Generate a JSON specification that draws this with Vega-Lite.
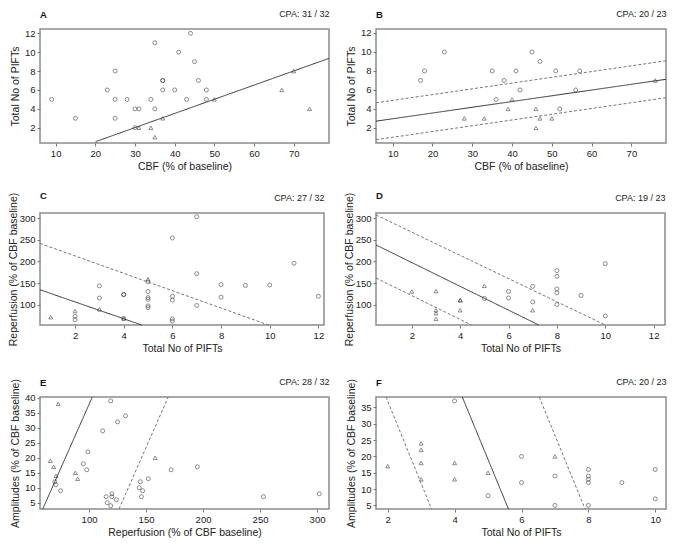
{
"$schema": "https://vega.github.io/schema/vega-lite/v6.json",
"padding": {"left": 7, "top": 8, "right": 5, "bottom": 5},
"columns": 2,
"spacing": {"row": 70, "column": 46},
"bounds": "flush",
"align": "all",
"config": {
 "font": "Liberation Sans",
 "view": {"stroke": "#8c8c8c", "strokeWidth": 1.5},
 "axis": {"grid": false, "domain": false, "tickColor": "#777", "tickSize": 3, "labelFontSize": 9.5, "labelColor": "#222", "labelPadding": 2, "titleFontSize": 10.5, "titleFontWeight": "normal", "titleColor": "#222"},
 "title": {"anchor": "start", "frame": "group", "fontSize": 9.5, "fontWeight": "bold", "color": "#111", "offset": -10},
 "point": {"filled": false, "size": 16, "strokeWidth": 0.8, "color": "#333"},
 "line": {"strokeWidth": 1, "clip": true}
},
"datasets": {
 "A": [{"x":9,"y":5,"s":"o"},{"x":15,"y":3,"s":"o"},{"x":23,"y":6,"s":"o"},{"x":25,"y":8,"s":"o"},{"x":25,"y":5,"s":"o"},{"x":25,"y":3,"s":"o"},{"x":28,"y":5,"s":"o"},{"x":30,"y":4,"s":"o"},{"x":31,"y":4,"s":"o"},{"x":30,"y":2,"s":"o"},{"x":34,"y":5,"s":"o"},{"x":35,"y":11,"s":"o"},{"x":35,"y":4,"s":"o"},{"x":37,"y":7,"s":"o"},{"x":37,"y":7,"s":"o"},{"x":37,"y":6,"s":"o"},{"x":40,"y":6,"s":"o"},{"x":41,"y":10,"s":"o"},{"x":43,"y":5,"s":"o"},{"x":44,"y":12,"s":"o"},{"x":45,"y":9,"s":"o"},{"x":46,"y":7,"s":"o"},{"x":48,"y":6,"s":"o"},{"x":48,"y":5,"s":"o"},
  {"x":31,"y":2,"s":"t"},{"x":34,"y":2,"s":"t"},{"x":35,"y":1,"s":"t"},{"x":37,"y":3,"s":"t"},{"x":50,"y":5,"s":"t"},{"x":67,"y":6,"s":"t"},{"x":70,"y":8,"s":"t"},{"x":74,"y":4,"s":"t"}],
 "A_lines": [{"x":20.07,"y":0.52,"k":"fit","d":"s"},{"x":78.9,"y":9.35,"k":"fit","d":"s"}],
 "B": [{"x":17,"y":7,"s":"o"},{"x":18,"y":8,"s":"o"},{"x":23,"y":10,"s":"o"},{"x":35,"y":8,"s":"o"},{"x":36,"y":5,"s":"o"},{"x":38,"y":7,"s":"o"},{"x":41,"y":8,"s":"o"},{"x":42,"y":6,"s":"o"},{"x":45,"y":10,"s":"o"},{"x":47,"y":9,"s":"o"},{"x":51,"y":8,"s":"o"},{"x":52,"y":4,"s":"o"},{"x":56,"y":6,"s":"o"},{"x":57,"y":8,"s":"o"},
  {"x":28,"y":3,"s":"t"},{"x":33,"y":3,"s":"t"},{"x":39,"y":4,"s":"t"},{"x":40,"y":5,"s":"t"},{"x":46,"y":4,"s":"t"},{"x":46,"y":2,"s":"t"},{"x":47,"y":3,"s":"t"},{"x":50,"y":3,"s":"t"},{"x":76,"y":7,"s":"t"}],
 "B_lines": [{"x":5.8,"y":2.71,"k":"fit","d":"s"},{"x":78.7,"y":7.12,"k":"fit","d":"s"},{"x":5.8,"y":4.65,"k":"up","d":"d"},{"x":78.7,"y":9.07,"k":"up","d":"d"},{"x":5.8,"y":0.76,"k":"lo","d":"d"},{"x":78.7,"y":5.18,"k":"lo","d":"d"}],
 "C": [{"x":2,"y":74,"s":"o"},{"x":2,"y":66,"s":"o"},{"x":3,"y":144,"s":"o"},{"x":3,"y":116,"s":"o"},{"x":4,"y":124,"s":"o"},{"x":4,"y":124,"s":"o"},{"x":4,"y":69,"s":"o"},{"x":5,"y":153,"s":"o"},{"x":5,"y":131,"s":"o"},{"x":5,"y":117,"s":"o"},{"x":5,"y":113,"s":"o"},{"x":5,"y":98,"s":"o"},{"x":5,"y":94,"s":"o"},{"x":6,"y":254,"s":"o"},{"x":6,"y":120,"s":"o"},{"x":6,"y":111,"s":"o"},{"x":6,"y":68,"s":"o"},{"x":6,"y":63,"s":"o"},{"x":7,"y":303,"s":"o"},{"x":7,"y":172,"s":"o"},{"x":7,"y":99,"s":"o"},{"x":8,"y":147,"s":"o"},{"x":8,"y":118,"s":"o"},{"x":9,"y":145,"s":"o"},{"x":10,"y":146,"s":"o"},{"x":11,"y":196,"s":"o"},{"x":12,"y":120,"s":"o"},
  {"x":1,"y":72,"s":"t"},{"x":2,"y":86,"s":"t"},{"x":3,"y":90,"s":"t"},{"x":4,"y":69,"s":"t"},{"x":5,"y":159,"s":"t"}],
 "C_lines": [{"x":0.56,"y":135,"k":"fit","d":"s"},{"x":4.74,"y":54,"k":"fit","d":"s"},{"x":0.56,"y":241.6,"k":"up","d":"d"},{"x":9.95,"y":54,"k":"up","d":"d"}],
 "D": [{"x":2,"y":131,"s":"t"},{"x":3,"y":132,"s":"t"},{"x":3,"y":88,"s":"t"},{"x":3,"y":81,"s":"t"},{"x":3,"y":68,"s":"t"},{"x":4,"y":111,"s":"t"},{"x":4,"y":111,"s":"t"},{"x":4,"y":88,"s":"t"},{"x":5,"y":144,"s":"t"},{"x":7,"y":88,"s":"t"},
  {"x":5,"y":115,"s":"o"},{"x":6,"y":131,"s":"o"},{"x":6,"y":116,"s":"o"},{"x":7,"y":143,"s":"o"},{"x":7,"y":107,"s":"o"},{"x":8,"y":179,"s":"o"},{"x":8,"y":166,"s":"o"},{"x":8,"y":137,"s":"o"},{"x":8,"y":128,"s":"o"},{"x":8,"y":101,"s":"o"},{"x":9,"y":122,"s":"o"},{"x":10,"y":195,"s":"o"},{"x":10,"y":75,"s":"o"}],
 "D_lines": [{"x":0.52,"y":238,"k":"fit","d":"s"},{"x":7.25,"y":54,"k":"fit","d":"s"},{"x":0.52,"y":307,"k":"up","d":"d"},{"x":10.0,"y":54,"k":"up","d":"d"},{"x":0.52,"y":162,"k":"lo","d":"d"},{"x":4.47,"y":54,"k":"lo","d":"d"}],
 "E": [{"x":73,"y":38,"s":"t"},{"x":66,"y":19,"s":"t"},{"x":69,"y":17,"s":"t"},{"x":71,"y":14,"s":"t"},{"x":88,"y":15,"s":"t"},{"x":90,"y":13,"s":"t"},{"x":158,"y":20,"s":"t"},
  {"x":119,"y":39,"s":"o"},{"x":132,"y":34,"s":"o"},{"x":125,"y":32,"s":"o"},{"x":112,"y":29,"s":"o"},{"x":99,"y":22,"s":"o"},{"x":95,"y":18,"s":"o"},{"x":98,"y":16,"s":"o"},{"x":70,"y":12,"s":"o"},{"x":71,"y":11,"s":"o"},{"x":75,"y":9,"s":"o"},{"x":115,"y":7,"s":"o"},{"x":116,"y":5,"s":"o"},{"x":119,"y":4,"s":"o"},{"x":120,"y":8,"s":"o"},{"x":120,"y":7,"s":"o"},{"x":124,"y":6,"s":"o"},{"x":145,"y":12,"s":"o"},{"x":152,"y":13,"s":"o"},{"x":144,"y":10,"s":"o"},{"x":147,"y":9,"s":"o"},{"x":146,"y":7,"s":"o"},{"x":172,"y":16,"s":"o"},{"x":195,"y":17,"s":"o"},{"x":253,"y":7,"s":"o"},{"x":302,"y":8,"s":"o"}],
 "E_lines": [{"x":59.4,"y":2.9,"k":"fit","d":"s"},{"x":102.9,"y":40.3,"k":"fit","d":"s"},{"x":126.3,"y":2.9,"k":"up","d":"d"},{"x":169.5,"y":40.3,"k":"up","d":"d"}],
 "F": [{"x":2,"y":17,"s":"t"},{"x":3,"y":24,"s":"t"},{"x":3,"y":22,"s":"t"},{"x":3,"y":18,"s":"t"},{"x":3,"y":13,"s":"t"},{"x":4,"y":18,"s":"t"},{"x":4,"y":13,"s":"t"},{"x":5,"y":15,"s":"t"},{"x":7,"y":20,"s":"t"},
  {"x":4,"y":37,"s":"o"},{"x":5,"y":8,"s":"o"},{"x":6,"y":20,"s":"o"},{"x":6,"y":12,"s":"o"},{"x":7,"y":14,"s":"o"},{"x":7,"y":5,"s":"o"},{"x":8,"y":16,"s":"o"},{"x":8,"y":14,"s":"o"},{"x":8,"y":13,"s":"o"},{"x":8,"y":12,"s":"o"},{"x":8,"y":5,"s":"o"},{"x":9,"y":12,"s":"o"},{"x":10,"y":16,"s":"o"},{"x":10,"y":7,"s":"o"}],
 "F_lines": [{"x":1.95,"y":38.2,"k":"lo","d":"d"},{"x":3.31,"y":3.9,"k":"lo","d":"d"},{"x":4.23,"y":38.2,"k":"fit","d":"s"},{"x":5.61,"y":3.9,"k":"fit","d":"s"},{"x":6.53,"y":38.2,"k":"up","d":"d"},{"x":7.9,"y":3.9,"k":"up","d":"d"}]
},
"concat": [
 {"title": "A", "width": 289, "height": 114,
  "layer": [
   {"data": {"name": "A"}, "mark": "point",
    "encoding": {
     "x": {"field": "x", "type": "quantitative", "scale": {"domain": [6.06, 78.9], "nice": false, "zero": false}, "axis": {"title": "CBF (% of baseline)", "values": [10,20,30,40,50,60,70], "titlePadding": 4}},
     "y": {"field": "y", "type": "quantitative", "scale": {"domain": [0.38, 12.46], "nice": false, "zero": false}, "axis": {"title": "Total No of PIFTs", "values": [2,4,6,8,10,12], "titlePadding": 4}},
     "shape": {"field": "s", "type": "nominal", "scale": {"domain": ["o","t"], "range": ["circle","triangle-up"]}, "legend": null}}},
   {"data": {"name": "A_lines"}, "mark": "line",
    "encoding": {
     "x": {"field": "x", "type": "quantitative", "axis": {"orient": "top", "title": "CPA: 31 / 32", "titleAnchor": "end", "labels": false, "ticks": false, "domain": false, "titlePadding": 11, "titleFontSize": 9}},
     "y": {"field": "y", "type": "quantitative", "axis": {"title": "Total No of PIFTs", "values": [2,4,6,8,10,12], "titlePadding": 4}},
     "detail": {"field": "k"},
     "strokeDash": {"field": "d", "type": "nominal", "scale": {"domain": ["s","d"], "range": [[1,0],[3,2]]}, "legend": null},
     "color": {"field": "d", "type": "nominal", "scale": {"domain": ["s","d"], "range": ["#333","#777"]}, "legend": null}}}
  ],
  "resolve": {"axis": {"x": "independent"}}},
 {"title": "B", "width": 290, "height": 114,
  "layer": [
   {"data": {"name": "B"}, "mark": "point",
    "encoding": {
     "x": {"field": "x", "type": "quantitative", "scale": {"domain": [5.8, 78.7], "nice": false, "zero": false}, "axis": {"title": "CBF (% of baseline)", "values": [10,20,30,40,50,60,70], "titlePadding": 4}},
     "y": {"field": "y", "type": "quantitative", "scale": {"domain": [0.41, 12.42], "nice": false, "zero": false}, "axis": {"title": "Total No of PIFTs", "values": [2,4,6,8,10,12], "titlePadding": 4}},
     "shape": {"field": "s", "type": "nominal", "scale": {"domain": ["o","t"], "range": ["circle","triangle-up"]}, "legend": null}}},
   {"data": {"name": "B_lines"}, "mark": "line",
    "encoding": {
     "x": {"field": "x", "type": "quantitative", "axis": {"orient": "top", "title": "CPA: 20 / 23", "titleAnchor": "end", "labels": false, "ticks": false, "domain": false, "titlePadding": 11, "titleFontSize": 9}},
     "y": {"field": "y", "type": "quantitative", "axis": {"title": "Total No of PIFTs", "values": [2,4,6,8,10,12], "titlePadding": 4}},
     "detail": {"field": "k"},
     "strokeDash": {"field": "d", "type": "nominal", "scale": {"domain": ["s","d"], "range": [[1,0],[3,2]]}, "legend": null},
     "color": {"field": "d", "type": "nominal", "scale": {"domain": ["s","d"], "range": ["#333","#777"]}, "legend": null}}}
  ],
  "resolve": {"axis": {"x": "independent"}}},
 {"title": "C", "width": 284, "height": 112,
  "layer": [
   {"data": {"name": "C"}, "mark": "point",
    "encoding": {
     "x": {"field": "x", "type": "quantitative", "scale": {"domain": [0.56, 12.23], "nice": false, "zero": false}, "axis": {"title": "Total No of PIFTs", "values": [2,4,6,8,10,12], "titlePadding": 4}},
     "y": {"field": "y", "type": "quantitative", "scale": {"domain": [54, 311.5], "nice": false, "zero": false}, "axis": {"title": "Reperfusion (% of  CBF baseline)", "values": [100,150,200,250,300], "titlePadding": 1}},
     "shape": {"field": "s", "type": "nominal", "scale": {"domain": ["o","t"], "range": ["circle","triangle-up"]}, "legend": null}}},
   {"data": {"name": "C_lines"}, "mark": "line",
    "encoding": {
     "x": {"field": "x", "type": "quantitative", "axis": {"orient": "top", "title": "CPA: 27 / 32", "titleAnchor": "end", "labels": false, "ticks": false, "domain": false, "titlePadding": 11, "titleFontSize": 9}},
     "y": {"field": "y", "type": "quantitative", "axis": {"title": "Reperfusion (% of  CBF baseline)", "values": [100,150,200,250,300], "titlePadding": 1}},
     "detail": {"field": "k"},
     "strokeDash": {"field": "d", "type": "nominal", "scale": {"domain": ["s","d"], "range": [[1,0],[3,2]]}, "legend": null},
     "color": {"field": "d", "type": "nominal", "scale": {"domain": ["s","d"], "range": ["#555","#888"]}, "legend": null}}}
  ],
  "resolve": {"axis": {"x": "independent"}}},
 {"title": "D", "width": 289, "height": 112,
  "layer": [
   {"data": {"name": "D"}, "mark": "point",
    "encoding": {
     "x": {"field": "x", "type": "quantitative", "scale": {"domain": [0.52, 12.47], "nice": false, "zero": false}, "axis": {"title": "Total No of PIFTs", "values": [2,4,6,8,10,12], "titlePadding": 4}},
     "y": {"field": "y", "type": "quantitative", "scale": {"domain": [54, 311.5], "nice": false, "zero": false}, "axis": {"title": "Reperfusion (% of  CBF baseline)", "values": [100,150,200,250,300], "titlePadding": 1}},
     "shape": {"field": "s", "type": "nominal", "scale": {"domain": ["o","t"], "range": ["circle","triangle-up"]}, "legend": null}}},
   {"data": {"name": "D_lines"}, "mark": "line",
    "encoding": {
     "x": {"field": "x", "type": "quantitative", "axis": {"orient": "top", "title": "CPA: 19 / 23", "titleAnchor": "end", "labels": false, "ticks": false, "domain": false, "titlePadding": 11, "titleFontSize": 9}},
     "y": {"field": "y", "type": "quantitative", "axis": {"title": "Reperfusion (% of  CBF baseline)", "values": [100,150,200,250,300], "titlePadding": 1}},
     "detail": {"field": "k"},
     "strokeDash": {"field": "d", "type": "nominal", "scale": {"domain": ["s","d"], "range": [[1,0],[3,2]]}, "legend": null},
     "color": {"field": "d", "type": "nominal", "scale": {"domain": ["s","d"], "range": ["#555","#888"]}, "legend": null}}}
  ],
  "resolve": {"axis": {"x": "independent"}}},
 {"title": "E", "width": 289, "height": 112,
  "layer": [
   {"data": {"name": "E"}, "mark": "point",
    "encoding": {
     "x": {"field": "x", "type": "quantitative", "scale": {"domain": [57, 310.5], "nice": false, "zero": false}, "axis": {"title": "Reperfusion (% of  CBF baseline)", "values": [100,150,200,250,300], "titlePadding": 4}},
     "y": {"field": "y", "type": "quantitative", "scale": {"domain": [2.9, 40.3], "nice": false, "zero": false}, "axis": {"title": "Amplitudes (% of CBF baseline)", "values": [5,10,15,20,25,30,35,40], "titlePadding": 4}},
     "shape": {"field": "s", "type": "nominal", "scale": {"domain": ["o","t"], "range": ["circle","triangle-up"]}, "legend": null}}},
   {"data": {"name": "E_lines"}, "mark": "line",
    "encoding": {
     "x": {"field": "x", "type": "quantitative", "axis": {"orient": "top", "title": "CPA: 28 / 32", "titleAnchor": "end", "labels": false, "ticks": false, "domain": false, "titlePadding": 11, "titleFontSize": 9}},
     "y": {"field": "y", "type": "quantitative", "axis": {"title": "Amplitudes (% of CBF baseline)", "values": [5,10,15,20,25,30,35,40], "titlePadding": 4}},
     "detail": {"field": "k"},
     "strokeDash": {"field": "d", "type": "nominal", "scale": {"domain": ["s","d"], "range": [[1,0],[3,2]]}, "legend": null},
     "color": {"field": "d", "type": "nominal", "scale": {"domain": ["s","d"], "range": ["#444","#777"]}, "legend": null}}}
  ],
  "resolve": {"axis": {"x": "independent"}}},
 {"title": "F", "width": 290, "height": 112,
  "layer": [
   {"data": {"name": "F"}, "mark": "point",
    "encoding": {
     "x": {"field": "x", "type": "quantitative", "scale": {"domain": [1.65, 10.32], "nice": false, "zero": false}, "axis": {"title": "Total No of PIFTs", "values": [2,4,6,8,10], "titlePadding": 4}},
     "y": {"field": "y", "type": "quantitative", "scale": {"domain": [3.9, 38.2], "nice": false, "zero": false}, "axis": {"title": "Amplitudes (% of CBF baseline)", "values": [5,10,15,20,25,30,35], "titlePadding": 4}},
     "shape": {"field": "s", "type": "nominal", "scale": {"domain": ["o","t"], "range": ["circle","triangle-up"]}, "legend": null}}},
   {"data": {"name": "F_lines"}, "mark": "line",
    "encoding": {
     "x": {"field": "x", "type": "quantitative", "axis": {"orient": "top", "title": "CPA: 20 / 23", "titleAnchor": "end", "labels": false, "ticks": false, "domain": false, "titlePadding": 11, "titleFontSize": 9}},
     "y": {"field": "y", "type": "quantitative", "axis": {"title": "Amplitudes (% of CBF baseline)", "values": [5,10,15,20,25,30,35], "titlePadding": 4}},
     "detail": {"field": "k"},
     "strokeDash": {"field": "d", "type": "nominal", "scale": {"domain": ["s","d"], "range": [[1,0],[3,2]]}, "legend": null},
     "color": {"field": "d", "type": "nominal", "scale": {"domain": ["s","d"], "range": ["#444","#777"]}, "legend": null}}}
  ],
  "resolve": {"axis": {"x": "independent"}}}
]
}
